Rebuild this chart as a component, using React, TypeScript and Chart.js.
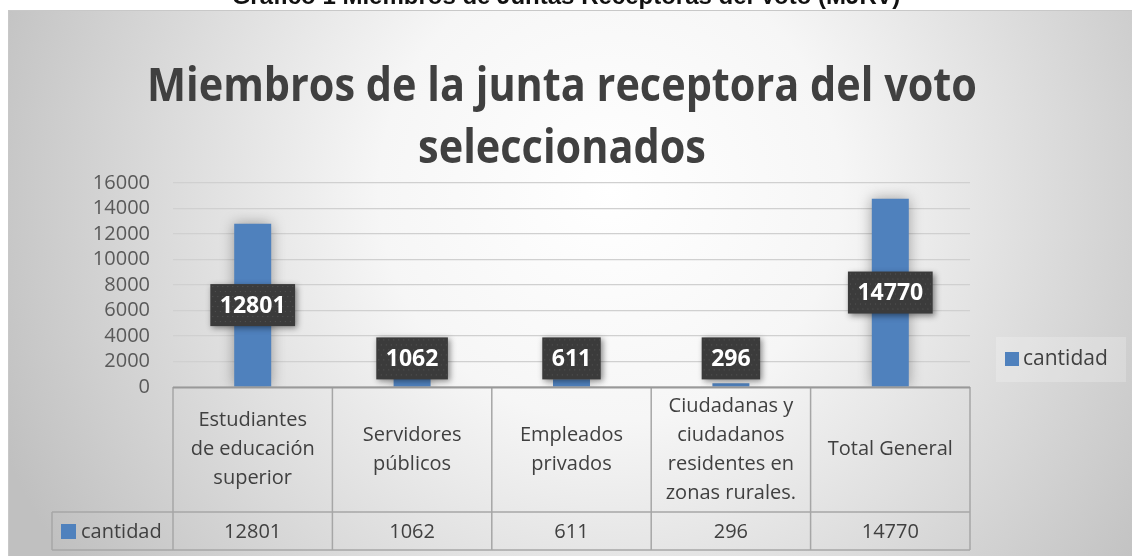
import React, { useEffect, useRef } from "react";
import { Chart, registerables } from "chart.js";

Chart.register(...registerables);

// ---- data ----
const pageCaption = "Gráfico 1 Miembros de Juntas Receptoras del Voto (MJRV)";
const titleLines = ["Miembros de la junta receptora del voto", "seleccionados"];
const categoryLines: string[][] = [
  ["Estudiantes", "de educación", "superior"],
  ["Servidores", "públicos"],
  ["Empleados", "privados"],
  ["Ciudadanas y", "ciudadanos", "residentes en", "zonas rurales."],
  ["Total General"],
];
const seriesName = "cantidad";
const cantidad = [12801, 1062, 611, 296, 14770];
const yTickValues = [0, 2000, 4000, 6000, 8000, 10000, 12000, 14000, 16000];

const BLUE = "#4F81BD";
const TEXT = "#404040";
const BODY_FONT = '"Open Sans", "DejaVu Sans", sans-serif';

const decorPlugin = {
  id: "decor",
  beforeDraw(chart: any) {
    const ctx = chart.ctx as CanvasRenderingContext2D;
    const W = chart.width;
    const H = chart.height;
    ctx.save();
    ctx.fillStyle = "#ffffff";
    ctx.fillRect(0, 0, W, H);
    // caption above the chart (cut by page top)
    ctx.fillStyle = "#111111";
    ctx.font = 'bold 24px "Liberation Sans", Arial, sans-serif';
    ctx.textAlign = "center";
    ctx.textBaseline = "alphabetic";
    ctx.fillText(pageCaption, 566, 4);
    // chart background
    const g = ctx.createRadialGradient(610, 190, 0, 610, 190, 660);
    g.addColorStop(0, "#ffffff");
    g.addColorStop(0.35, "#f6f6f6");
    g.addColorStop(1, "#c0c0c0");
    ctx.fillStyle = g;
    ctx.fillRect(8, 10, W, H);
    ctx.strokeStyle = "#c8c8c8";
    ctx.lineWidth = 1;
    ctx.strokeRect(8.5, 10.5, W, H);
    ctx.restore();
  },
  beforeDatasetDraw(chart: any) {
    const ctx = chart.ctx as CanvasRenderingContext2D;
    ctx.save();
    ctx.shadowColor = "rgba(0,0,0,0.35)";
    ctx.shadowBlur = 14;
  },
  afterDatasetDraw(chart: any) {
    chart.ctx.restore();
  },
  afterDraw(chart: any) {
    const ctx = chart.ctx as CanvasRenderingContext2D;
    const area = chart.chartArea;
    const n = cantidad.length;
    const colW = (area.right - area.left) / n;
    const headerBottom = 512;
    const tableBottom = 550;
    const leftCell = 52;

    ctx.save();
    // title (Calibri-like proportions: tall and narrow)
    ctx.fillStyle = TEXT;
    ctx.font = 'bold 46px "Open Sans", sans-serif';
    ctx.textAlign = "center";
    ctx.textBaseline = "alphabetic";
    const natural = ctx.measureText(titleLines[0]).width;
    const sx = Math.min(1, 830 / natural);
    ctx.save();
    ctx.translate(562, 0);
    ctx.scale(sx, 1);
    ctx.fillText(titleLines[0], 0, 101);
    ctx.fillText(titleLines[1], 0, 163);
    ctx.restore();

    // data table
    ctx.strokeStyle = "#a6a6a6";
    ctx.lineWidth = 1.5;
    ctx.beginPath();
    for (let i = 0; i <= n; i++) {
      const x = area.left + i * colW;
      ctx.moveTo(x, area.bottom);
      ctx.lineTo(x, tableBottom);
    }
    ctx.moveTo(leftCell, headerBottom);
    ctx.lineTo(area.right, headerBottom);
    ctx.moveTo(leftCell, tableBottom);
    ctx.lineTo(area.right, tableBottom);
    ctx.moveTo(leftCell, headerBottom);
    ctx.lineTo(leftCell, tableBottom);
    ctx.stroke();
    ctx.strokeStyle = "#999999";
    ctx.lineWidth = 2;
    ctx.beginPath();
    ctx.moveTo(area.left, area.bottom + 0.5);
    ctx.lineTo(area.right, area.bottom + 0.5);
    ctx.stroke();

    ctx.fillStyle = TEXT;
    ctx.font = `20px ${BODY_FONT}`;
    ctx.textAlign = "center";
    ctx.textBaseline = "middle";
    const lh = 29;
    const midHeader = (area.bottom + headerBottom) / 2;
    const midRow = (headerBottom + tableBottom) / 2;
    categoryLines.forEach((lines, i) => {
      const cx = area.left + (i + 0.5) * colW;
      const start = midHeader - ((lines.length - 1) * lh) / 2;
      lines.forEach((t, k) => ctx.fillText(t, cx, start + k * lh));
      ctx.fillText(String(cantidad[i]), cx, midRow + 1);
    });
    ctx.fillStyle = BLUE;
    ctx.fillRect(61, midRow - 7, 15, 15);
    ctx.fillStyle = TEXT;
    ctx.textAlign = "left";
    ctx.fillText(seriesName, 81, midRow + 1);

    // legend
    ctx.fillStyle = "rgba(255,255,255,0.22)";
    ctx.fillRect(996, 337, 130, 45);
    ctx.fillStyle = BLUE;
    ctx.fillRect(1005, 352, 14, 14);
    ctx.fillStyle = TEXT;
    ctx.font = `21px ${BODY_FONT}`;
    ctx.textAlign = "left";
    ctx.fillText(seriesName, 1023, 359);

    // data labels
    const meta = chart.getDatasetMeta(0);
    ctx.font = 'bold 23px "Open Sans", sans-serif';
    meta.data.forEach((bar: any, i: number) => {
      const txt = String(cantidad[i]);
      const tw = ctx.measureText(txt).width;
      const bw = tw + 19;
      const bh = 42;
      const cy = Math.min((bar.y + bar.base) / 2, bar.base - 28);
      const bx = bar.x - bw / 2;
      const by = cy - bh / 2;
      ctx.save();
      ctx.shadowColor = "rgba(0,0,0,0.45)";
      ctx.shadowBlur = 6;
      ctx.shadowOffsetX = 2;
      ctx.shadowOffsetY = 2;
      ctx.fillStyle = "#3b3b3b";
      ctx.fillRect(bx, by, bw, bh);
      ctx.restore();
      ctx.save();
      ctx.beginPath();
      ctx.rect(bx, by, bw, bh);
      ctx.clip();
      ctx.fillStyle = "#575757";
      for (let yy = by + 2; yy < by + bh; yy += 5) {
        for (let xx = bx + 2 + (Math.round((yy - by) / 5) % 2) * 2.5; xx < bx + bw; xx += 5) {
          ctx.fillRect(xx, yy, 1, 1);
        }
      }
      ctx.restore();
      ctx.fillStyle = "#ffffff";
      ctx.textAlign = "center";
      ctx.textBaseline = "middle";
      ctx.fillText(txt, bar.x, cy + 1);
    });
    ctx.restore();
  },
};

export default function App() {
  const ref = useRef<HTMLCanvasElement | null>(null);
  useEffect(() => {
    if (!ref.current) return;
    const chart = new Chart(ref.current, {
      type: "bar",
      data: {
        labels: categoryLines.map((l) => l.join(" ")),
        datasets: [
          {
            label: seriesName,
            data: cantidad,
            backgroundColor: BLUE,
            categoryPercentage: 1,
            barPercentage: 0.232,
          },
        ],
      },
      options: {
        animation: false,
        responsive: false,
        devicePixelRatio: 1,
        layout: { padding: { left: 0, top: 183, right: 162, bottom: 169 } },
        plugins: {
          legend: { display: false },
          title: { display: false },
          tooltip: { enabled: false },
        },
        scales: {
          x: { display: false },
          y: {
            min: yTickValues[0],
            max: yTickValues[yTickValues.length - 1],
            afterFit: (s: any) => {
              s.width = 173;
            },
            afterBuildTicks: (s: any) => {
              s.ticks = yTickValues.map((v) => ({ value: v }));
            },
            ticks: {
              autoSkip: false,
              color: "#595959",
              padding: 23,
              font: { family: BODY_FONT, size: 20 },
              callback: (v: any) => String(v),
            },
            grid: { color: "#d0d0d0", lineWidth: 1.2, drawTicks: false },
            border: { display: false },
          },
        },
      },
      plugins: [decorPlugin],
    });
    return () => chart.destroy();
  }, []);
  return (
    <div style={{ position: "fixed", left: 0, top: 0, width: 1132, height: 556 }}>
      <canvas ref={ref} width={1132} height={556} style={{ display: "block" }} />
    </div>
  );
}
